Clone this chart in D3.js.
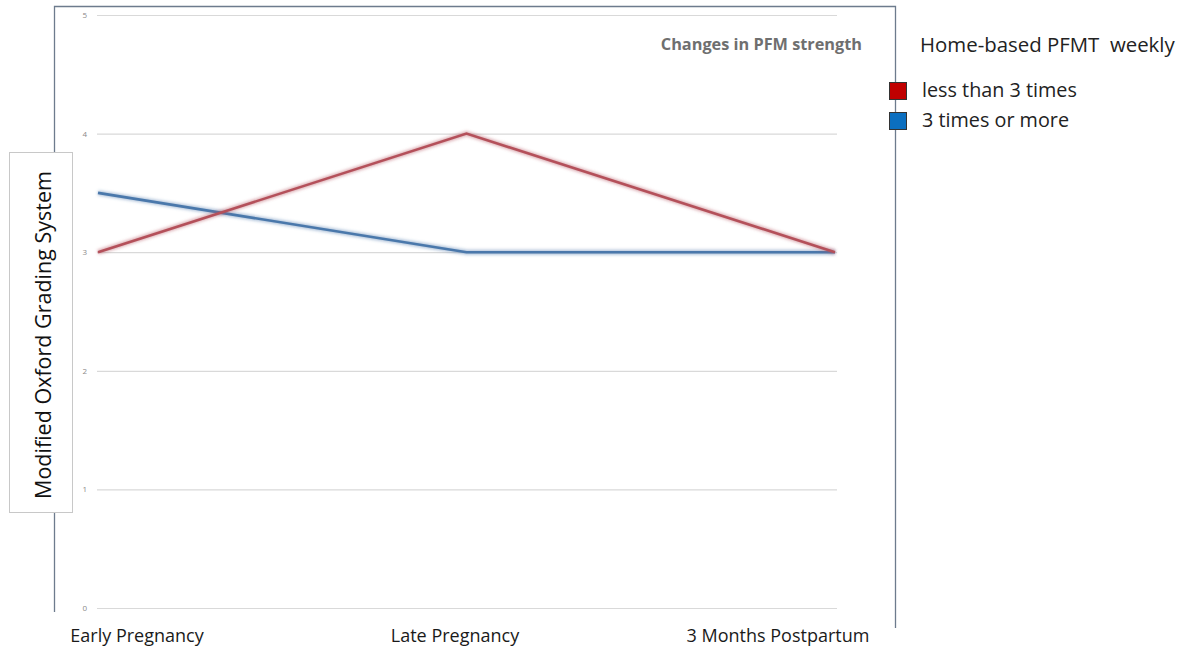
<!DOCTYPE html>
<html>
<head>
<meta charset="utf-8">
<script src="https://cdn.jsdelivr.net/npm/d3@7"></script>
<style>
  html, body { margin: 0; padding: 0; background: #fff; }
  svg { display: block; }
</style>
</head>
<body>
<svg id="chart" width="1182" height="650"></svg>
<script>
// Time points and mean grade per adherence group
const categories = ["Early Pregnancy", "Late Pregnancy", "3 Months Postpartum"];
const lessThan3 = [3, 4, 3];
const threeOrMore = [3.5, 3, 3];
const yTicks = [0, 1, 2, 3, 4, 5];
const seriesNames = ["less than 3 times", "3 times or more"];
const lineColors = ["#b4505a", "#4a78ab"];
const swatchColors = ["#c00000", "#0b6fc0"];

const svg = d3.select("#chart");
const font = "'Open Sans', 'Noto Sans', sans-serif";

const x = d3.scalePoint().domain(categories).range([98, 835]);
const y = d3.scaleLinear().domain([0, 5]).range([608, 15]);

// soft shadow under the lines
const defs = svg.append("defs");
defs.append("filter").attr("id", "soft")
  .attr("x", "-5%").attr("y", "-50%").attr("width", "110%").attr("height", "200%")
  .append("feGaussianBlur").attr("stdDeviation", 1.6);

// frame: left, top and right edges
svg.append("path")
  .attr("d", "M54.5,612 V6.5 H895.5 V628")
  .attr("fill", "none").attr("stroke", "#6d7b8d").attr("stroke-width", 1.3);

// horizontal gridlines + tick labels
const yAxis = d3.axisLeft(y).tickValues(yTicks).tickSize(-(837 - 97)).tickPadding(10).tickFormat(d3.format("d"));
const gy = svg.append("g").attr("transform", "translate(97,0)").call(yAxis);
gy.select(".domain").remove();
gy.selectAll(".tick line").attr("stroke", "#d9d9d9").attr("stroke-width", 1.2);
gy.selectAll(".tick text").attr("fill", "#8a8a8a").attr("font-size", 8).attr("font-family", font);

// x category labels
const xLabelPos = [137, 455, 778];
svg.append("g").selectAll("text").data(categories).join("text")
  .attr("x", (d, i) => xLabelPos[i]).attr("y", 642)
  .attr("text-anchor", "middle")
  .attr("font-family", font).attr("font-size", 18).attr("fill", "#1a1a1a")
  .text(d => d);

// series lines
const line = d3.line().x((d, i) => x(categories[i])).y(d => y(d));
const series = [lessThan3, threeOrMore];
series.slice().reverse().forEach((vals, ri) => {
  const i = series.length - 1 - ri;
  svg.append("path").datum(vals).attr("d", line)
    .attr("fill", "none").attr("stroke", lineColors[i]).attr("stroke-opacity", 0.45)
    .attr("stroke-width", 5).attr("filter", "url(#soft)");
  svg.append("path").datum(vals).attr("d", line)
    .attr("fill", "none").attr("stroke", lineColors[i]).attr("stroke-width", 2.6)
    .attr("stroke-linejoin", "miter");
});

// chart title
svg.append("text").attr("x", 862).attr("y", 50).attr("text-anchor", "end")
  .attr("font-family", font).attr("font-weight", "bold").attr("font-size", 16.3)
  .attr("fill", "#6f6f6f").text("Changes in PFM strength");

// y axis title in a box
svg.append("rect").attr("x", 9.5).attr("y", 152.5).attr("width", 63).attr("height", 360)
  .attr("fill", "#fff").attr("stroke", "#c8c8c8");
svg.append("text").attr("transform", "translate(51,335) rotate(-90)")
  .attr("text-anchor", "middle").attr("font-family", font).attr("font-size", 21.5)
  .attr("fill", "#111").text("Modified Oxford Grading System");

// legend
svg.append("text").attr("x", 920).attr("y", 52)
  .attr("font-family", font).attr("font-size", 20.4).attr("fill", "#222")
  .attr("xml:space", "preserve").text("Home-based PFMT  weekly");
const lg = svg.append("g").selectAll("g").data(seriesNames).join("g")
  .attr("transform", (d, i) => `translate(889,${82 + i * 30})`);
lg.append("rect").attr("x", 0.5).attr("y", 0.5).attr("width", 17).attr("height", 17)
  .attr("fill", (d, i) => swatchColors[i]).attr("stroke", "#333").attr("stroke-width", 1);
lg.append("text").attr("x", 33).attr("y", 15)
  .attr("font-family", font).attr("font-size", 19.8).attr("fill", "#222")
  .text(d => d);
</script>
</body>
</html>
